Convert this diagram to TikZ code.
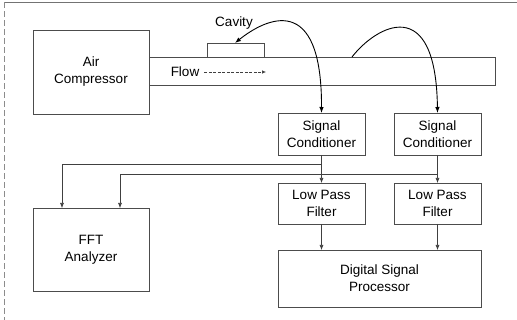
\documentclass[tikz,border=0pt]{standalone}
\usepackage{fontspec}
\setmainfont{Liberation Sans}
\usetikzlibrary{arrows.meta}
\begin{document}
\begin{tikzpicture}[x=1pt,y=-1pt,
  box/.style={draw=black!70,line width=0.7pt,inner sep=0pt,outer sep=0pt,anchor=north west,align=center,font=\fontsize{13.5}{17}\selectfont},
  lbl/.style={inner sep=0pt,font=\fontsize{13.5}{17}\selectfont},
  conn/.style={draw=black!75,line width=0.6pt},
  arr/.style={conn,-{Latex[length=5pt,width=4pt]}},
  curvearr/.style={draw=black,line width=0.9pt,-{Latex[length=6pt,width=4.5pt]}}]
\useasboundingbox (0,0) rectangle (517,320);
% frame remnants
\draw[black!55,line width=0.8pt] (4,2.5) -- (517,2.5);
\draw[black!45,line width=0.7pt,dash pattern=on 6pt off 3pt] (4,2.5) -- (4,320);
% pipe and cavity
\node[box,minimum width=346pt,minimum height=28pt] (pipe) at (149,57) {};
\node[box,minimum width=57pt,minimum height=14pt] (cav) at (207,43) {};
% boxes
\node[box,fill=white,minimum width=116pt,minimum height=84pt] (comp) at (33,30) {Air\\Compressor};
\node[box,minimum width=87pt,minimum height=42pt] (sc1) at (278,113) {Signal\\Conditioner};
\node[box,minimum width=87pt,minimum height=42pt] (sc2) at (394,113) {Signal\\Conditioner};
\node[box,minimum width=87pt,minimum height=41pt] (lpf1) at (278,183) {Low Pass\\Filter};
\node[box,minimum width=87pt,minimum height=41pt] (lpf2) at (394,183) {Low Pass\\Filter};
\node[box,minimum width=203pt,minimum height=57pt] (dsp) at (278,250) {Digital Signal\\Processor};
\node[box,minimum width=116pt,minimum height=83pt] (fft) at (33,208) {FFT\\Analyzer};
% labels
\node[lbl] (cavlbl) at (234,23) {Cavity};
\node[lbl] (flow) at (185,72) {Flow};
\coordinate (flowend) at (266,72);
\draw[conn,dash pattern=on 3pt off 1.5pt,-{Latex[length=4pt,width=3.5pt]}] (flow.east) ++(5,0) -- (flowend);
% sensor curves
\coordinate (s1) at (235,43);
\coordinate (s2) at (352,57);
\draw[curvearr,{Latex[length=6pt,width=4.5pt]}-{Latex[length=6pt,width=4.5pt]}] (s1) .. controls (265,19) and (322,-10) .. (sc1.north);
\draw[curvearr] (s2) .. controls (376,26) and (436,-8) .. (sc2.north);
% signal paths
\draw[arr] (sc1.south) -- (lpf1.north);
\draw[arr] (sc2.south) -- (lpf2.north);
\draw[arr] (lpf1.south) -- (dsp.north -| lpf1.south);
\draw[arr] (lpf2.south) -- (dsp.north -| lpf2.south);
\coordinate (b1) at (322,164);
\coordinate (b2) at (438,174);
\coordinate (fa) at (62,208);
\coordinate (fb) at (120,208);
\draw[arr] (b1) -| (fa);
\draw[arr] (b2) -| (fb);
\end{tikzpicture}
\end{document}
